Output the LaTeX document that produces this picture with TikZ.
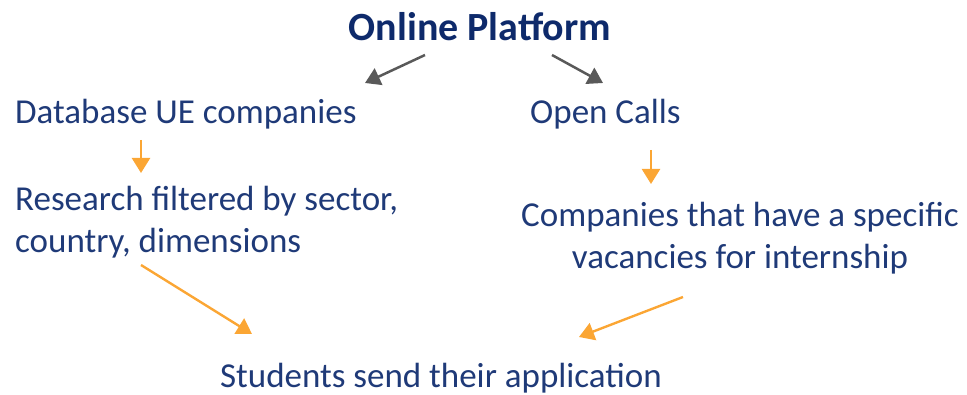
\documentclass[tikz,border=0pt]{standalone}
\usepackage{fontspec}
\setmainfont{Carlito}
\usetikzlibrary{arrows.meta}
\definecolor{titleblue}{HTML}{0E2A6B}
\definecolor{textblue}{HTML}{1F3A78}
\definecolor{arrowgray}{HTML}{595959}
\definecolor{arroworange}{HTML}{FBA634}
\tikzset{
  txt/.style={text=textblue, font=\fontsize{35}{42.5}\selectfont, inner sep=0pt},
  grayarrow/.style={draw=arrowgray, line width=2.5pt, -{Triangle[length=15pt,width=18pt]}},
  orangearrow/.style={draw=arroworange, line width=2.4pt, -{Triangle[length=15pt,width=18pt]}}
}
\begin{document}
\begin{tikzpicture}[x=1pt,y=-1pt]
  \useasboundingbox (0,0) rectangle (967,395);
  \node[inner sep=0pt, text=titleblue, font=\fontsize{40}{46}\selectfont\bfseries] (title) at (480,27) {Online Platform};
  \node[txt, anchor=west] (db) at (15,114) {Database UE companies};
  \node[txt, anchor=west] (calls) at (530,114) {Open Calls};
  \node[txt, anchor=west, align=left] (research) at (15,222) {Research filtered by sector,\\country, dimensions};
  \node[txt, align=center] (companies) at (740,238) {Companies that have a specific\\vacancies for internship};
  \node[txt, anchor=base] (students) at (441,388) {Students send their application};

  \coordinate (g1s) at (425,55); \coordinate (g1e) at (365,83);
  \coordinate (g2s) at (552,55); \coordinate (g2e) at (603,83);
  \draw[grayarrow] (g1s) -- (g1e);
  \draw[grayarrow] (g2s) -- (g2e);

  \coordinate (o1s) at (141,140); \coordinate (o1e) at (141,173);
  \coordinate (o2s) at (651,150); \coordinate (o2e) at (651,184);
  \coordinate (o3s) at (141,265); \coordinate (o3e) at (252,334);
  \coordinate (o4s) at (683,297); \coordinate (o4e) at (579,337);
  \draw[orangearrow] (o1s) -- (o1e);
  \draw[orangearrow] (o2s) -- (o2e);
  \draw[orangearrow] (o3s) -- (o3e);
  \draw[orangearrow] (o4s) -- (o4e);
\end{tikzpicture}
\end{document}
